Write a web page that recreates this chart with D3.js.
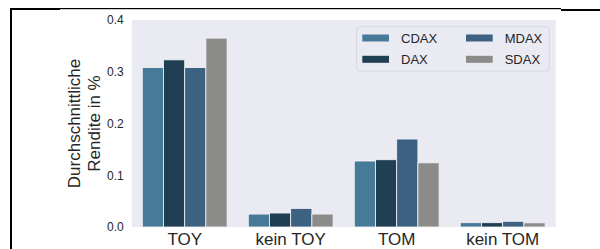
<!DOCTYPE html>
<html><head><meta charset="utf-8">
<script src="https://cdn.jsdelivr.net/npm/d3@7"></script>
<style>body{margin:0;background:#fff}svg{display:block}</style>
</head><body>
<script>
const categories = ["TOY", "kein TOY", "TOM", "kein TOM"];
const seriesNames = ["CDAX", "DAX", "MDAX", "SDAX"];
const CDAX = [0.308, 0.025, 0.1275, 0.0083];
const DAX  = [0.323, 0.027, 0.130, 0.0083];
const MDAX = [0.308, 0.036, 0.170, 0.011];
const SDAX = [0.365, 0.025, 0.124, 0.008];
const yTicks = [0.0, 0.1, 0.2, 0.3, 0.4];
const colors = ["#477a99", "#213f52", "#3c6181", "#8b8b8a"];
const seriesValues = [CDAX, DAX, MDAX, SDAX];

(function () {
const W = 600, H = 249;
const svg = d3.select("body").append("svg").attr("width", W).attr("height", H);
const font = "Liberation Sans, Arial, sans-serif";

// frame lines
svg.append("rect").attr("x", 10).attr("y", 8).attr("width", 2).attr("height", H - 8).attr("fill", "#000");
svg.append("rect").attr("x", 10).attr("y", 8).attr("width", 50).attr("height", 2).attr("fill", "#000");
svg.append("rect").attr("x", 60).attr("y", 8).attr("width", 501).attr("height", 1.2).attr("fill", "#000");
svg.append("rect").attr("x", 561).attr("y", 9).attr("width", 39).attr("height", 2).attr("fill", "#000");

const pL = 131.7, pR = 555.7, pT = 20, pB = 227;
const x0 = d3.scaleBand().domain(categories).range([pL, pR]).paddingInner(0.2).paddingOuter(0.1);
const x1 = d3.scaleBand().domain(seriesNames).range([0, x0.bandwidth()]);
const y = d3.scaleLinear().domain([0, 0.4]).range([pB, pT]);

svg.append("rect").attr("x", pL).attr("y", pT).attr("width", pR - pL).attr("height", pB - pT).attr("fill", "#eaeaf2");

categories.forEach((c, i) => {
  seriesNames.forEach((s, j) => {
    const v = seriesValues[j][i];
    svg.append("rect")
      .attr("x", x0(c) + x1(s))
      .attr("y", y(v))
      .attr("width", x1.bandwidth())
      .attr("height", y(0) - y(v))
      .attr("fill", colors[j])
      .attr("stroke", "#f4f4f8").attr("stroke-width", 0.8);
  });
});

// y axis
const yAxis = svg.append("g").attr("transform", `translate(${pL},0)`)
  .call(d3.axisLeft(y).tickValues(yTicks).tickFormat(d3.format(".1f")).tickSize(0).tickPadding(8));
yAxis.select(".domain").remove();
yAxis.selectAll("text").attr("font-family", font).attr("font-size", 12).attr("fill", "#262626");

// x axis
const xAxis = svg.append("g").attr("transform", `translate(0,${pB})`)
  .call(d3.axisBottom(x0).tickSize(0).tickPadding(6));
xAxis.select(".domain").remove();
xAxis.selectAll("text").attr("font-family", font).attr("font-size", 17).attr("fill", "#262626").attr("dy", "0.71em");

// y label
const yl = svg.append("text").attr("transform", `translate(80,${(pT + pB) / 2}) rotate(-90)`)
  .attr("text-anchor", "middle").attr("font-family", font).attr("font-size", 17).attr("fill", "#262626");
yl.append("tspan").attr("x", 0).attr("y", 0).text("Durchschnittliche");
yl.append("tspan").attr("x", 0).attr("y", 20).text("Rendite in %");

// legend
const lg = svg.append("g");
lg.append("rect").attr("x", 356.7).attr("y", 26.7).attr("width", 192.6).attr("height", 44.3)
  .attr("rx", 3).attr("fill", "#eaeaf2").attr("stroke", "#d6d6de").attr("stroke-width", 1);
const legendPos = [[362.3, 38], [362.3, 59.3], [466, 38], [466, 59.3]];
seriesNames.forEach((s, j) => {
  const [lx, ly] = legendPos[j];
  lg.append("rect").attr("x", lx).attr("y", ly - 3.5).attr("width", 26.7).attr("height", 7).attr("fill", colors[j]);
  lg.append("text").attr("x", lx + 38.7).attr("y", ly).attr("dy", "0.35em")
    .attr("font-family", font).attr("font-size", 13).attr("fill", "#262626").text(s);
});
})();
</script>
</body></html>
